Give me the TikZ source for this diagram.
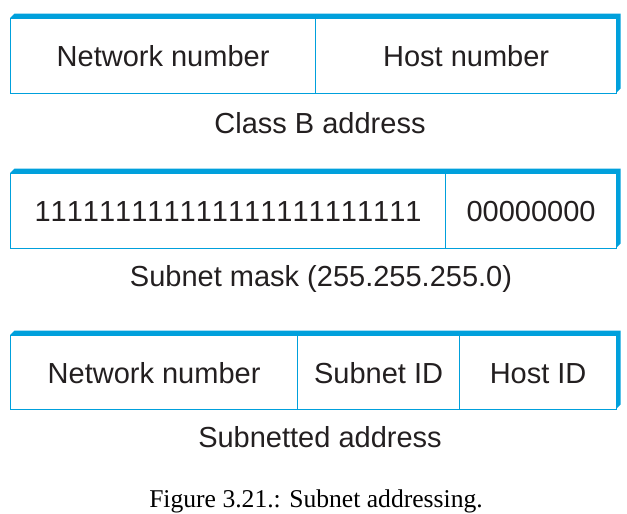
\documentclass[tikz,border=0pt]{standalone}
\usepackage{fontspec}
\setmainfont{Liberation Sans}
\newfontfamily\captionserif{Liberation Serif}
\definecolor{fieldblue}{RGB}{0,160,220}
\definecolor{inkblack}{RGB}{35,31,32}

\begin{document}
\begin{tikzpicture}[x=1pt,y=-1pt,
		field/.style={draw=fieldblue,line width=1.2pt,fill=white,inner sep=0pt,
			minimum height=75pt,text height=21pt,text depth=0pt,anchor=north west,
			font=\fontsize{29}{33}\selectfont,text=inkblack},
		caption/.style={text height=21pt,text depth=0pt,inner sep=0pt,
			font=\fontsize{29}{33}\selectfont,text=inkblack}]
	\useasboundingbox (0,0) rectangle (627,514);
	% raised edge behind each row
	\foreach \top/\bot in {18/93,173/248,335/409}
		\fill[fieldblue] (10,\top) -- (14.5,\top-4.5) -- (620.5,\top-4.5)
			-- (620.5,\bot-4.5) -- (616,\bot) -- cycle;
	% Class B address
	\node[field,minimum width=305pt] (net)  at (10,18)  {Network number};
	\node[field,minimum width=301pt] (host) at (315,18) {Host number};
	\node[caption] (classb) at (320,123) {Class B address};
	% subnet mask
	\node[field,minimum width=435pt,font=\fontsize{29}{33}\selectfont\addfontfeature{Kerning=Off}]
		(ones) at (10,173) {11111111%
		11111111%
		11111111};
	\node[field,minimum width=171pt] (zeros) at (445,173) {00000000};
	\node[caption] (mask) at (321,276) {Subnet mask (255.255.255.0)};
	% subnetted address
	\node[field,minimum width=287pt,minimum height=74pt] (subnet) at (10,335)  {Network number};
	\node[field,minimum width=162pt,minimum height=74pt] (sid)    at (297,335) {Subnet ID};
	\node[field,minimum width=157pt,minimum height=74pt] (hid)    at (459,335) {Host ID};
	\node[caption] (subaddr) at (320,437) {Subnetted address};
	\node[anchor=base,inner sep=0pt,font=\captionserif\fontsize{25.6}{30}\selectfont] (fig)
		at (316,507) {Figure 3.21.: Subnet addressing.};
\end{tikzpicture}
\end{document}
